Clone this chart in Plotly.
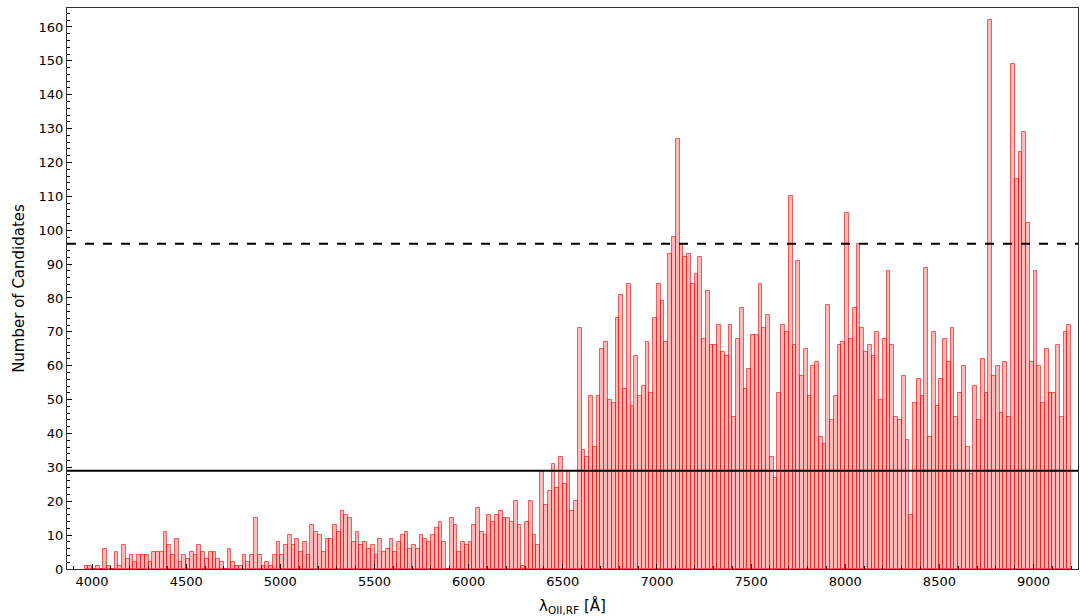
import plotly.graph_objects as go

# Histogram: bins of 20 Angstrom starting at 3960
bin_start = 3960
bin_width = 20
counts = [
    1, 1, 0, 1, 0, 6, 1, 0, 5, 1, 7, 3, 4, 2, 4, 4, 4, 2, 5, 5,
    5, 11, 7, 4, 9, 2, 4, 3, 5, 4, 7, 5, 3, 5, 5, 3, 2, 0, 6, 2,
    1, 1, 4, 2, 4, 15, 4, 1, 2, 1, 4, 8, 4, 7, 10, 7, 9, 5, 8, 4,
    13, 11, 10, 5, 9, 9, 13, 11, 17, 16, 15, 8, 11, 7, 8, 6, 7, 4, 9, 5,
    6, 9, 5, 8, 10, 11, 6, 7, 6, 10, 9, 8, 10, 12, 14, 8, 0, 15, 13, 5,
    8, 7, 8, 13, 18, 11, 10, 16, 14, 16, 17, 15, 15, 14, 20, 13, 1, 14, 20, 10,
    7, 29, 19, 23, 31, 24, 33, 25, 29, 17, 20, 71, 35, 33, 51, 36, 51, 65, 67, 50,
    49, 74, 81, 53, 84, 48, 63, 51, 54, 67, 52, 74, 84, 79, 67, 93, 98, 127, 96, 92,
    93, 84, 87, 92, 68, 82, 66, 66, 72, 64, 63, 72, 45, 68, 77, 53, 59, 69, 69, 84,
    71, 75, 33, 27, 52, 72, 70, 110, 66, 91, 57, 65, 51, 60, 61, 39, 37, 78, 44, 51,
    66, 67, 105, 68, 77, 96, 71, 64, 66, 63, 70, 50, 68, 88, 66, 45, 44, 57, 38, 16,
    49, 56, 51, 89, 39, 70, 48, 56, 68, 61, 71, 45, 52, 60, 36, 28, 54, 44, 62, 52,
    162, 57, 60, 46, 61, 45, 149, 115, 123, 129, 102, 61, 88, 60, 49, 65, 52, 52, 66, 45,
    70, 72,
]
bin_centers = [bin_start + bin_width * (i + 0.5) for i in range(len(counts))]

solid_level = 29
dashed_level = 96

x_ticks = [4000, 4500, 5000, 5500, 6000, 6500, 7000, 7500, 8000, 8500, 9000]
y_ticks = list(range(0, 170, 10))

fig = go.Figure()
fig.add_trace(go.Bar(
    x=bin_centers, y=counts, width=bin_width,
    marker=dict(color="rgba(255,0,0,0.28)",
                line=dict(color="rgba(255,0,0,0.6)", width=1)),
    showlegend=False, hoverinfo="x+y",
))

fig.add_shape(type="line", xref="paper", yref="y", x0=0, x1=1,
              y0=solid_level, y1=solid_level, line=dict(color="black", width=2))
fig.add_shape(type="line", xref="paper", yref="y", x0=0, x1=1,
              y0=dashed_level, y1=dashed_level,
              line=dict(color="black", width=2, dash="dash"))

font_family = "DejaVu Sans, Liberation Sans, sans-serif"
fig.update_layout(
    width=1080, height=616,
    margin=dict(l=67, r=2, t=8, b=47),
    paper_bgcolor="white", plot_bgcolor="white",
    bargap=0,
    font=dict(family=font_family, size=13, color="black"),
    xaxis=dict(
        range=[3867, 9236], tickvals=x_ticks, ticktext=[str(v) for v in x_ticks],
        automargin=False,
        ticks="inside", ticklen=5, tickcolor="black", showgrid=False, zeroline=False,
        showline=True, linecolor="#333", linewidth=1, mirror=True,
        minor=dict(dtick=100, ticks="inside", ticklen=3, tickcolor="black", showgrid=False),
        title=dict(text="λ<sub>OII,RF</sub> [Å]", standoff=12, font=dict(size=15)),
        tickfont=dict(size=13),
    ),
    yaxis=dict(
        range=[0, 165.6], tickvals=y_ticks,
        automargin=False,
        ticks="inside", ticklen=5, tickcolor="black", showgrid=False, zeroline=False,
        showline=True, linecolor="#333", linewidth=1, mirror=True,
        minor=dict(dtick=2, ticks="inside", ticklen=3, tickcolor="black", showgrid=False),
        title=dict(text="Number of Candidates", standoff=10, font=dict(size=15)),
        tickfont=dict(size=13),
    ),
)

fig.write_html(
    "out.html",
    config={"displayModeBar": False},
    post_script="document.body.style.margin='0';document.body.style.overflow='hidden';",
)
